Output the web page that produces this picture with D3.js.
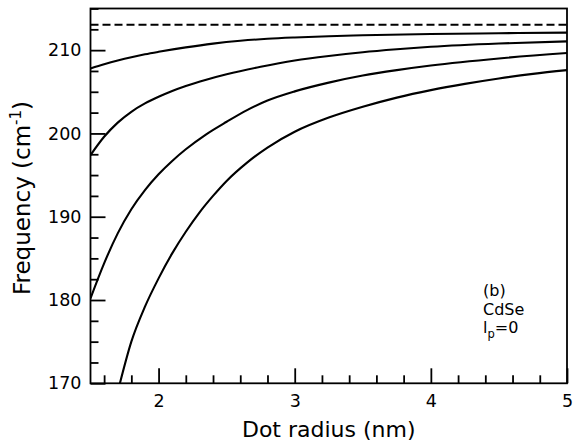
<!DOCTYPE html>
<html><head><meta charset="utf-8">
<script src="https://cdn.jsdelivr.net/npm/d3@7"></script>
<style>body{margin:0;background:#fff}svg{display:block}</style>
</head><body><svg id="c" width="574" height="445"></svg>
<script>
// ---- data ----
const xDomain = [1.5, 5];
const yDomain = [170, 215];
const xTickValues = [2, 3, 4, 5];
const yTickValues = [170, 180, 190, 200, 210];
const bulkLO = 213.05;

const radiusA = [1.5, 1.6, 1.7, 1.8, 1.9, 2.0, 2.2, 2.4, 2.6, 2.8, 3.0, 3.25, 3.5, 4.0, 4.5, 5.0];
const freqA   = [207.8, 208.3, 208.75, 209.15, 209.5, 209.8, 210.33, 210.78, 211.12, 211.36, 211.52, 211.67, 211.78, 211.93, 212.03, 212.1];

const radiusB = [1.5, 1.6, 1.7, 1.8, 1.9, 2.0, 2.1, 2.2, 2.35, 2.5, 2.75, 3.0, 3.25, 3.5, 3.75, 4.0, 4.5, 5.0];
const freqB   = [197.4, 199.6, 201.3, 202.6, 203.6, 204.4, 205.1, 205.7, 206.45, 207.1, 208.0, 208.75, 209.3, 209.75, 210.1, 210.4, 210.8, 211.05];

const radiusC = [1.5, 1.6, 1.7, 1.8, 1.9, 2.0, 2.1, 2.2, 2.35, 2.5, 2.65, 2.8, 3.0, 3.25, 3.5, 3.75, 4.0, 4.5, 5.0];
const freqC   = [180.2, 184.4, 188.0, 190.9, 193.2, 195.1, 196.7, 198.1, 199.9, 201.4, 202.8, 203.95, 205.05, 206.1, 206.95, 207.6, 208.15, 209.0, 209.65];

const radiusD = [1.716, 1.8, 1.9, 2.0, 2.1, 2.2, 2.3, 2.4, 2.5, 2.65, 2.8, 3.0, 3.25, 3.5, 3.75, 4.0, 4.25, 4.5, 4.75, 5.0];
const freqD   = [170.0, 175.0, 179.2, 182.6, 185.6, 188.2, 190.5, 192.5, 194.3, 196.5, 198.3, 200.2, 201.9, 203.2, 204.3, 205.2, 205.95, 206.6, 207.15, 207.6];

const labelLines = ["(b)", "CdSe"];

// ---- layout ----
const svg = d3.select("#c");
const L = 90.5, R = 567, T = 8.5, B = 383.3;
const x = d3.scaleLinear().domain(xDomain).range([L, R]);
const y = d3.scaleLinear().domain(yDomain).range([B, T]);
const FONT = "DejaVu Sans, sans-serif";

svg.append("defs").append("clipPath").attr("id", "clip")
  .append("rect").attr("x", L).attr("y", T).attr("width", R - L).attr("height", B - T);

// minor ticks
const yMinor = d3.range(170, 215.01, 2.5).filter(v => v % 10 !== 0);
const xMinor = d3.range(1.6, 5.0, 0.2).map(v => +v.toFixed(1)).filter(v => Math.abs(v - Math.round(v)) > 1e-6);

function styleAxis(g) {
  g.select(".domain").remove();
  g.selectAll(".tick line").attr("stroke", "#000").attr("stroke-width", 1.8);
  g.selectAll("text").attr("font-family", FONT).attr("font-size", 17.5).attr("fill", "#000");
}

svg.append("g").attr("transform", `translate(${L},0)`)
  .call(d3.axisLeft(y).tickValues(yTickValues).tickSize(-15).tickPadding(9).tickFormat(d3.format("d")))
  .call(styleAxis);
svg.append("g").attr("transform", `translate(${L},0)`)
  .call(d3.axisLeft(y).tickValues(yMinor).tickSize(-8).tickFormat(""))
  .call(styleAxis);
svg.append("g").attr("transform", `translate(0,${B})`)
  .call(d3.axisBottom(x).tickValues(xTickValues).tickSize(-15).tickPadding(11).tickFormat(d3.format("d")))
  .call(styleAxis);
svg.append("g").attr("transform", `translate(0,${B})`)
  .call(d3.axisBottom(x).tickValues(xMinor).tickSize(-8).tickFormat(""))
  .call(styleAxis);

// frame
svg.append("rect").attr("x", L).attr("y", T).attr("width", R - L).attr("height", B - T)
  .attr("fill", "none").attr("stroke", "#000").attr("stroke-width", 1.8);

// curves
const line = d3.line().x(d => x(d[0])).y(d => y(d[1])).curve(d3.curveMonotoneX);
const plot = svg.append("g").attr("clip-path", "url(#clip)");
[[radiusA, freqA], [radiusB, freqB], [radiusC, freqC], [radiusD, freqD]].forEach(([rs, fs]) => {
  plot.append("path").datum(rs.map((r, i) => [r, fs[i]]))
    .attr("d", line).attr("fill", "none").attr("stroke", "#000").attr("stroke-width", 2.1);
});
plot.append("path").datum([[xDomain[0], bulkLO], [xDomain[1], bulkLO]])
  .attr("d", line).attr("fill", "none").attr("stroke", "#000")
  .attr("stroke-width", 2).attr("stroke-dasharray", "8,4");

// axis titles
svg.append("text").attr("x", (L + R) / 2).attr("y", 437)
  .attr("text-anchor", "middle").attr("font-family", FONT).attr("font-size", 22)
  .text("Dot radius (nm)");
const yt = svg.append("text").attr("transform", `translate(30,198) rotate(-90)`)
  .attr("text-anchor", "middle").attr("font-family", FONT).attr("font-size", 23);
yt.append("tspan").text("Frequency (cm");
yt.append("tspan").attr("font-size", 15).attr("dy", -9).text("-1");
yt.append("tspan").attr("dy", 9).text(")");

// annotation
labelLines.forEach((t, i) => {
  svg.append("text").attr("x", 483).attr("y", 296 + i * 18.5)
    .attr("font-family", FONT).attr("font-size", 16).text(t);
});
const lp = svg.append("text").attr("x", 483).attr("y", 333)
  .attr("font-family", FONT).attr("font-size", 16);
lp.append("tspan").text("l");
lp.append("tspan").attr("font-size", 11.5).attr("dy", 5).text("p");
lp.append("tspan").attr("dy", -5).text("=0");
</script>
</body></html>
